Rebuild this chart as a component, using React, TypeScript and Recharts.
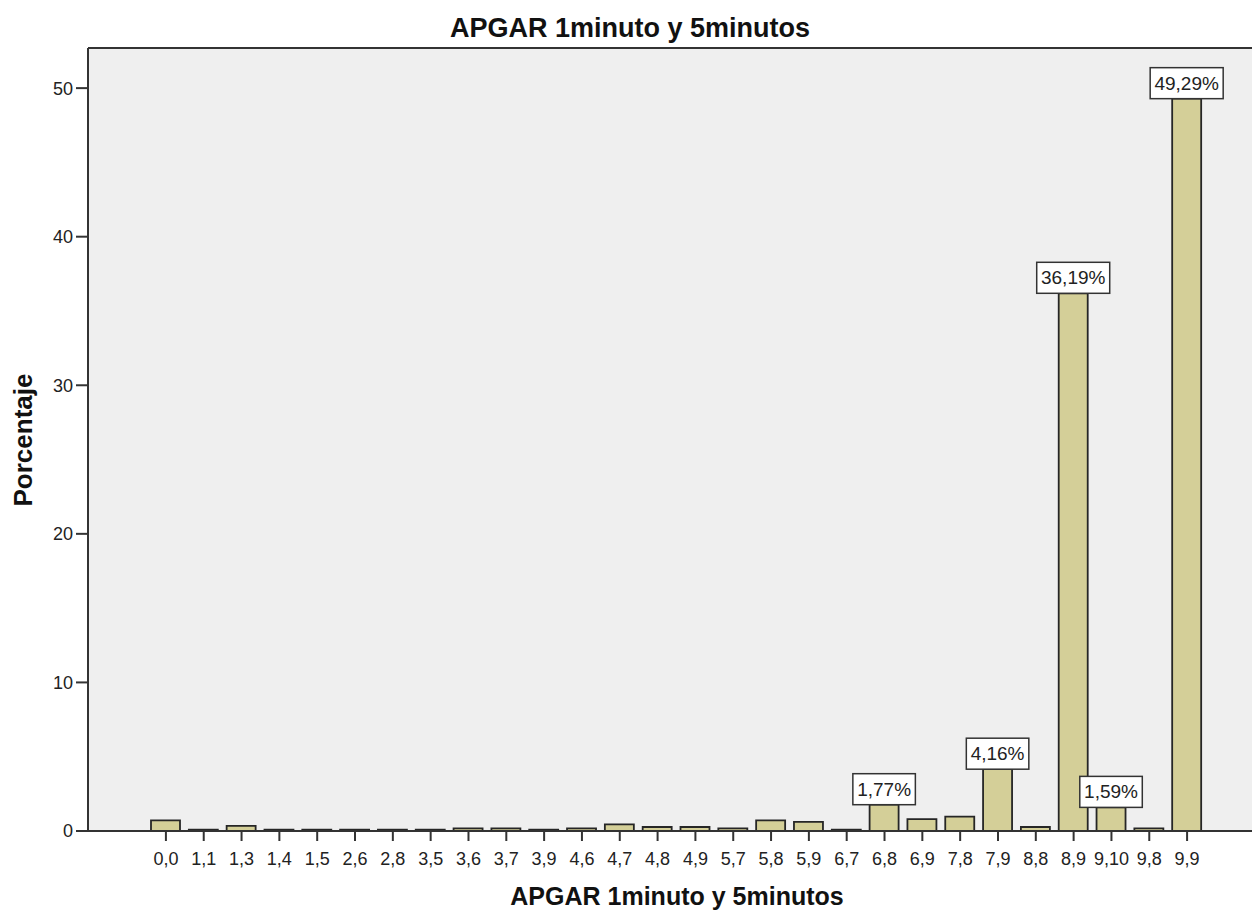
import * as React from 'react';
import {
  BarChart,
  Bar,
  XAxis,
  YAxis,
  CartesianGrid,
  ReferenceLine,
  LabelList
} from 'recharts';

// APGAR score pairs (1 min, 5 min)
const categories = [
  '0,0', '1,1', '1,3', '1,4', '1,5', '2,6', '2,8', '3,5', '3,6', '3,7',
  '3,9', '4,6', '4,7', '4,8', '4,9', '5,7', '5,8', '5,9', '6,7', '6,8',
  '6,9', '7,8', '7,9', '8,8', '8,9', '9,10', '9,8', '9,9'
];

// percentage of cases
const percentages = [
  0.71, 0.09, 0.35, 0.09, 0.09, 0.09, 0.09, 0.09, 0.18, 0.18,
  0.09, 0.18, 0.44, 0.27, 0.27, 0.18, 0.71, 0.62, 0.09, 1.77,
  0.80, 0.97, 4.16, 0.27, 36.19, 1.59, 0.18, 49.29
];

// categories that get a value box
const labeledCategories = ['6,8', '7,9', '8,9', '9,10', '9,9'];

const yTicks = [0, 10, 20, 30, 40, 50];
const yMax = 52.7;

const title = 'APGAR 1minuto y 5minutos';
const xTitle = 'APGAR 1minuto y 5minutos';
const yTitle = 'Porcentaje';

const data = categories.map((cat, i) => ({
  cat,
  pct: percentages[i],
  label: labeledCategories.includes(cat)
    ? percentages[i].toFixed(2).replace('.', ',') + '%'
    : ''
}));

const FONT = 'Arial, "Liberation Sans", sans-serif';

const ValueBox = (props: any) => {
  const { x, y, width, index } = props;
  const text = data[index]?.label;
  if (!text) return null;
  const cx = x + width / 2;
  const w = text.length * 10.5 + 10;
  const h = 31;
  return (
    <g>
      <rect
        x={cx - w / 2}
        y={y - h}
        width={w}
        height={h}
        fill="#ffffff"
        stroke="#333333"
        strokeWidth={1.5}
      />
      <text
        x={cx}
        y={y - 9}
        textAnchor="middle"
        fontSize={19}
        fontFamily={FONT}
        fill="#222222"
      >
        {text}
      </text>
    </g>
  );
};

const App: React.FC = () => {
  return (
    <div style={{ position: 'absolute', left: 0, top: 0, width: 1253, height: 910, background: '#ffffff' }}>
      <BarChart
        width={1253}
        height={910}
        data={data}
        margin={{ top: 48, right: 1, left: 0, bottom: 0 }}
        barSize={29}
      >
        <CartesianGrid fill="#efefef" horizontal={false} vertical={false} />
        <ReferenceLine y={yMax} stroke="#333333" strokeWidth={2} />
        <XAxis
          dataKey="cat"
          interval={0}
          height={79}
          padding={{ left: 59, right: 46 }}
          axisLine={{ stroke: '#333333', strokeWidth: 2 }}
          tickLine={{ stroke: '#333333', strokeWidth: 2 }}
          tickSize={10}
          tickMargin={11}
          tick={{ fontSize: 18, fill: '#222222', fontFamily: FONT }}
        />
        <YAxis
          width={88}
          domain={[0, yMax]}
          ticks={yTicks}
          axisLine={{ stroke: '#333333', strokeWidth: 2 }}
          tickLine={{ stroke: '#333333', strokeWidth: 2 }}
          tickSize={12}
          tickMargin={3}
          tick={{ fontSize: 18, fill: '#222222', fontFamily: FONT }}
        />
        <Bar
          dataKey="pct"
          fill="#d4cf98"
          stroke="#262626"
          strokeWidth={1.8}
          isAnimationActive={false}
        >
          <LabelList dataKey="label" content={<ValueBox />} />
        </Bar>
      </BarChart>

      <svg
        width={1253}
        height={910}
        style={{ position: 'absolute', left: 0, top: 0, pointerEvents: 'none' }}
      >
        <text x={630} y={37} textAnchor="middle" fontSize={27} fontWeight="bold" fontFamily={FONT} fill="#111111">
          {title}
        </text>
        <text x={677} y={905} textAnchor="middle" fontSize={25} fontWeight="bold" fontFamily={FONT} fill="#111111">
          {xTitle}
        </text>
        <text
          x={0}
          y={0}
          transform="translate(32, 440) rotate(-90)"
          textAnchor="middle"
          fontSize={26}
          fontWeight="bold"
          fontFamily={FONT}
          fill="#111111"
        >
          {yTitle}
        </text>
      </svg>
    </div>
  );
};

export default App;
